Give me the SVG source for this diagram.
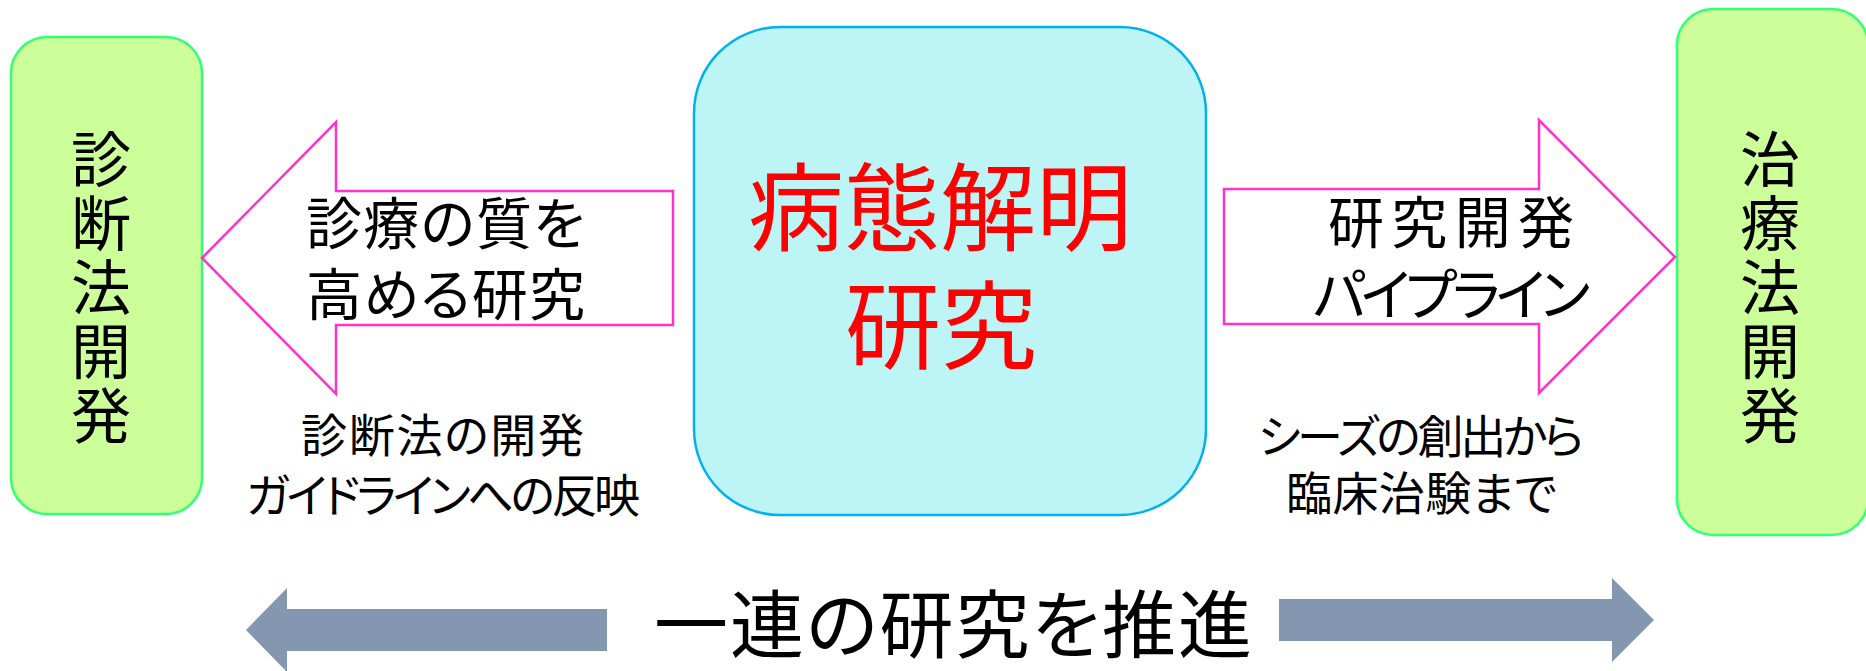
<svg xmlns="http://www.w3.org/2000/svg" width="1866" height="671" viewBox="0 0 1866 671">
<style>
  text { font-family: "Noto Sans CJK JP", "Noto Sans CJK SC", sans-serif; fill: #000; }
  .side { fill: #ccff99; stroke: #33ff77; stroke-width: 2.5; }
  .center { fill: #bdf4f6; stroke: #00b0f0; stroke-width: 2.5; }
  .block { fill: #ffffff; stroke: #ff33cc; stroke-width: 2.5; stroke-linejoin: miter; }
  .flow { fill: #8497b0; }
  .vert { font-size: 60px; writing-mode: vertical-rl; letter-spacing: 4px; }
  .arrowlbl { font-size: 56px; font-feature-settings: "palt"; }
  .note { font-size: 46px; font-feature-settings: "palt"; }
  .main { font-size: 96px; fill: #ff0000; text-anchor: middle; }
  .bottom { font-size: 74px; font-feature-settings: "palt"; }
</style>
<rect width="1866" height="671" fill="#ffffff"/>

<g id="node-diagnosis">
  <rect class="side" x="11" y="37" width="191" height="477" rx="36" ry="36"/>
  <text class="vert" x="101" y="129">診断法開発</text>
</g>

<g id="node-pathology">
  <rect class="center" x="694" y="27" width="512" height="488" rx="86" ry="86"/>
  <text class="main"><tspan x="940" y="243">病態解明</tspan><tspan x="941" y="361">研究</tspan></text>
</g>

<g id="node-therapy">
  <rect class="side" x="1677" y="9" width="191" height="526" rx="36" ry="36"/>
  <text class="vert" x="1770" y="129">治療法開発</text>
</g>

<g id="connectors">
  <g id="arrow-left">
    <polygon class="block" points="202,258 336,122 336,191 673,191 673,325 336,325 336,394"/>
    <text class="arrowlbl"><tspan x="306" y="244" textLength="279" lengthAdjust="spacing">診療の質を</tspan><tspan x="306" y="315" textLength="279" lengthAdjust="spacing">高める研究</tspan></text>
  </g>
  <g id="arrow-right">
    <polygon class="block" points="1224,189 1539,189 1539,120 1675,257 1539,393 1539,324 1224,324"/>
    <text class="arrowlbl"><tspan x="1328" y="243" textLength="246" lengthAdjust="spacing">研究開発</tspan><tspan x="1313" y="315" textLength="277" lengthAdjust="spacing">パイプライン</tspan></text>
  </g>
  <g id="flow-left">
    <polygon class="flow" points="246,630 287,588 287,609 607,609 607,651 287,651 287,672"/>
  </g>
  <g id="flow-right">
    <polygon class="flow" points="1279,599 1612,599 1612,578 1654,620 1612,662 1612,641 1279,641"/>
  </g>
</g>

<g id="label-diagnosis-notes">
  <text class="note"><tspan x="301" y="452" textLength="283" lengthAdjust="spacing">診断法の開発</tspan><tspan x="246" y="512" textLength="394" lengthAdjust="spacing">ガイドラインへの反映</tspan></text>
</g>
<g id="label-therapy-notes">
  <text class="note"><tspan x="1258" y="453" textLength="326" lengthAdjust="spacing">シーズの創出から</tspan><tspan x="1286" y="510" textLength="271" lengthAdjust="spacing">臨床治験まで</tspan></text>
</g>
<g id="label-bottom">
  <text class="bottom" x="654" y="652" textLength="598" lengthAdjust="spacing">一連の研究を推進</text>
</g>
</svg>
